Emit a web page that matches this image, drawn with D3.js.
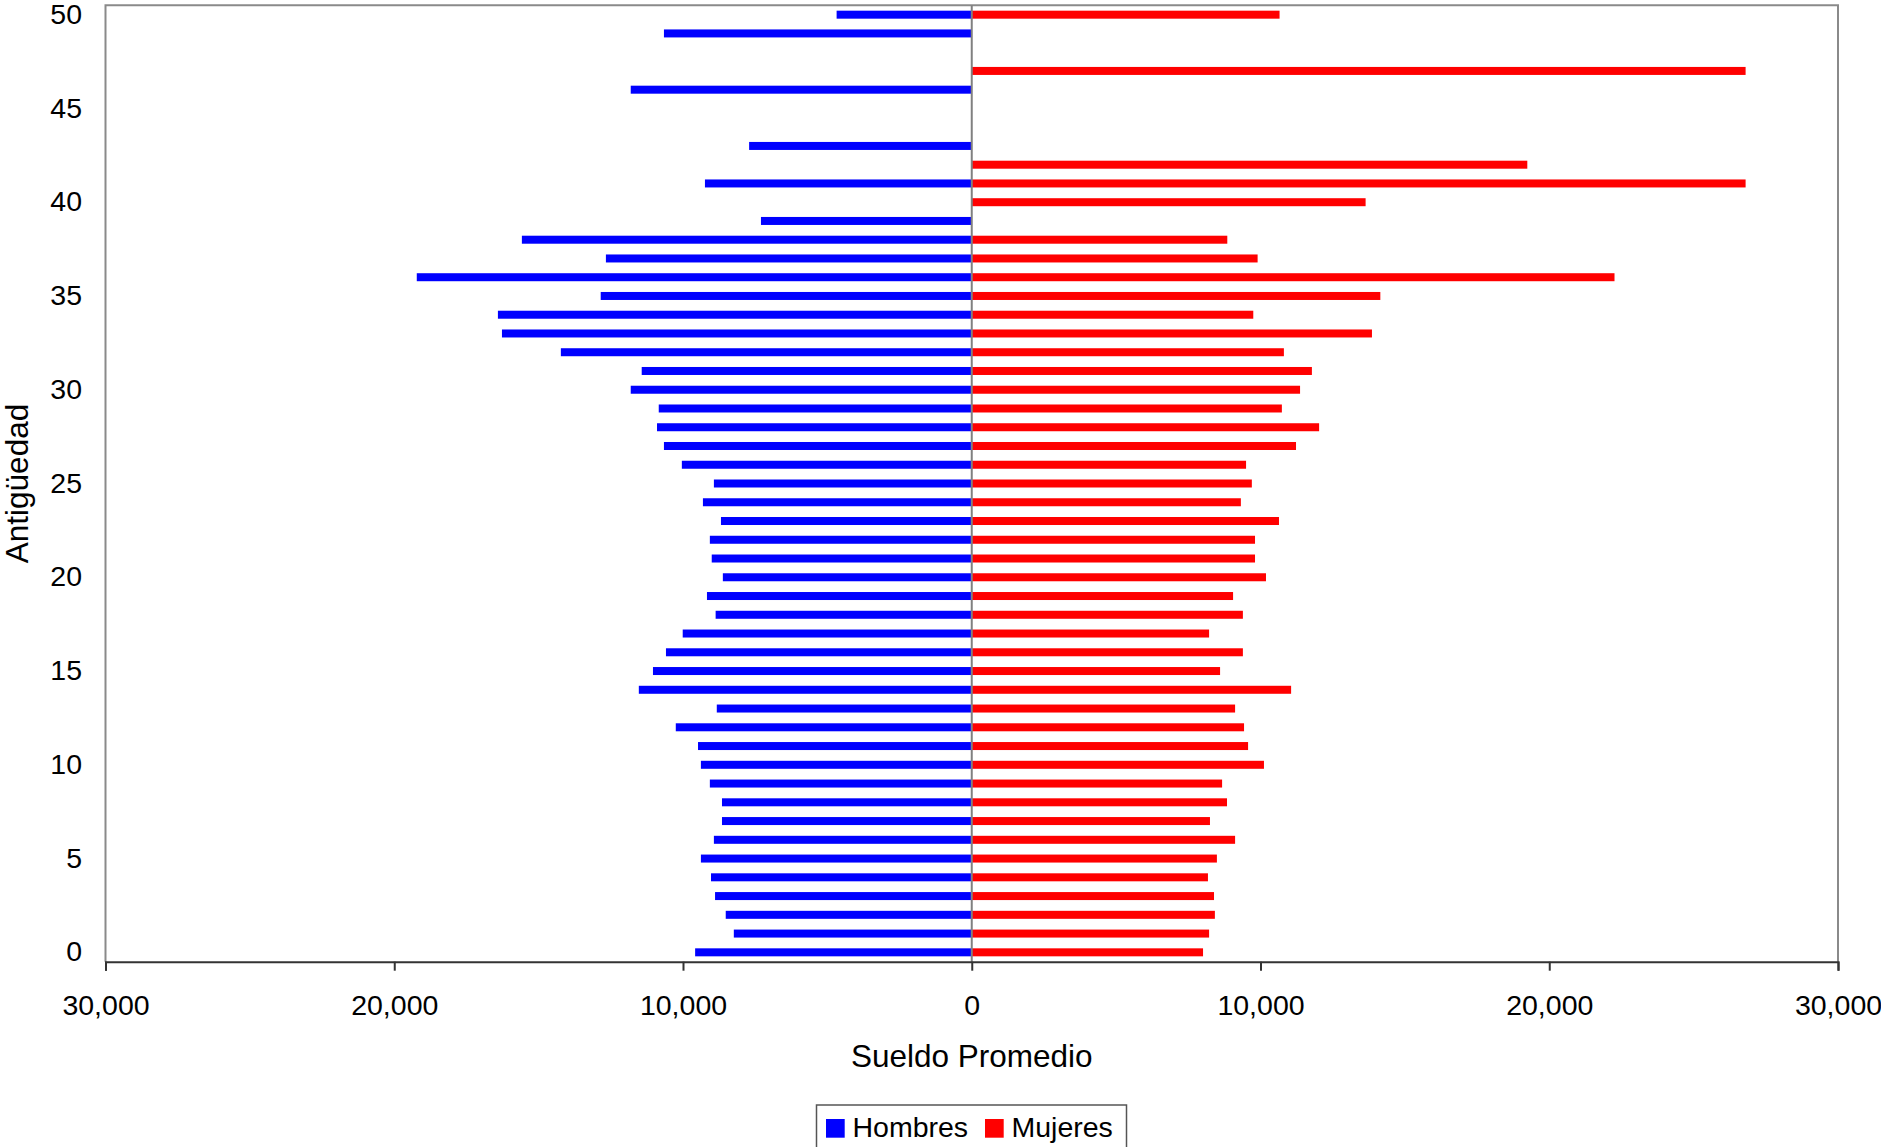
<!DOCTYPE html>
<html>
<head>
<meta charset="utf-8">
<script src="https://cdn.jsdelivr.net/npm/d3@7"></script>
<style>
  html, body { margin: 0; padding: 0; background: #fff; }
  svg { display: block; }
  text { font-family: "Liberation Sans", Arial, sans-serif; fill: #000; }
</style>
</head>
<body>
<svg id="chart" width="1881" height="1147"></svg>
<script>
// ---- Data ----
const antiguedad = [0,1,2,3,4,5,6,7,8,9,10,11,12,13,14,15,16,17,18,19,20,21,22,23,24,25,26,27,28,29,30,31,32,33,34,35,36,37,38,39,40,41,42,43,44,45,46,47,48,49,50];
const hombres = [9580,8240,8520,8890,9030,9380,8930,8650,8650,9070,
                 9380,9480,10250,8830,11530,11040,10590,10010,8870,9170,
                 8620,9005,9070,8685,9310,8930,10040,10660,10900,10840,
                 11810,11430,14230,16270,16410,12850,19220,12670,15580,7300,
                 null,9240,null,7710,null,null,11810,null,null,10660,4680];
const mujeres = [8010,8220,8420,8390,8180,8490,9120,8250,8840,8670,
                 10120,9570,9430,9120,11060,8600,9390,8220,9390,9050,
                 10190,9810,9810,10640,9320,9700,9500,11230,12030,10740,
                 11370,11780,10810,13860,9750,14150,22260,9900,8850,null,
                 13640,26800,19240,null,null,null,null,26800,null,null,10660];
const xTicks = [-30000,-20000,-10000,0,10000,20000,30000];
const yTicks = [0,5,10,15,20,25,30,35,40,45,50];
const seriesNames = ["Hombres","Mujeres"];
const seriesColors = ["#0000FF","#FF0000"];

// ---- Layout ----
const L = 105.5, R = 1838, T = 5.3, B = 961.7;
const svg = d3.select("#chart");

const x = d3.scaleLinear().domain([-30000, 30000]).range([L, R]);
const y = d3.scaleBand().domain(antiguedad.slice().reverse()).range([T, B]).padding(0);
const barH = 8;
const fmt = d3.format(",");

// Bars
const rows = antiguedad.map((a, i) => ({a, h: hombres[i], m: mujeres[i]}));
svg.append("g").selectAll("rect.h")
  .data(rows.filter(d => d.h != null))
  .join("rect")
  .attr("x", d => x(-d.h))
  .attr("width", d => x(0) - x(-d.h))
  .attr("y", d => y(d.a) + y.bandwidth()/2 - barH/2)
  .attr("height", barH)
  .attr("fill", seriesColors[0]);
svg.append("g").selectAll("rect.m")
  .data(rows.filter(d => d.m != null))
  .join("rect")
  .attr("x", x(0))
  .attr("width", d => x(d.m) - x(0))
  .attr("y", d => y(d.a) + y.bandwidth()/2 - barH/2)
  .attr("height", barH)
  .attr("fill", seriesColors[1]);

// Frame (left, top, right) gray
svg.append("path")
  .attr("d", `M${L},${B} L${L},${T} L${R},${T} L${R},${B}`)
  .attr("fill", "none").attr("stroke", "#8a8a8a").attr("stroke-width", 2);

// Zero vertical axis line
svg.append("line")
  .attr("x1", x(0)).attr("x2", x(0)).attr("y1", T).attr("y2", B)
  .attr("stroke", "#808080").attr("stroke-width", 2);

// Bottom axis
const xAxis = d3.axisBottom(x).tickValues(xTicks)
  .tickFormat(d => fmt(Math.abs(d))).tickSize(9).tickSizeOuter(9).tickPadding(24);
const gx = svg.append("g").attr("transform", `translate(0,${B})`).call(xAxis);
gx.select(".domain").attr("stroke", "#333").attr("stroke-width", 2);
gx.selectAll(".tick line").attr("stroke", "#333").attr("stroke-width", 2);
gx.selectAll(".tick text").style("font-size", "28.5px").attr("fill", "#000");

// Left axis labels
const yAxis = d3.axisLeft(y).tickValues(yTicks).tickSize(0).tickPadding(23.5);
const gy = svg.append("g").attr("transform", `translate(${L},0)`).call(yAxis);
gy.select(".domain").remove();
gy.selectAll(".tick text").style("font-size", "28.5px").attr("fill", "#000");

// Axis titles
svg.append("text")
  .attr("x", x(0)).attr("y", 1067)
  .attr("text-anchor", "middle")
  .style("font-size", "31.5px")
  .text("Sueldo Promedio");
svg.append("text")
  .attr("transform", `translate(28,${(T + B) / 2}) rotate(-90)`)
  .attr("text-anchor", "middle")
  .style("font-size", "31.5px")
  .text("Antigüedad");

// Legend
const lg = svg.append("g");
lg.append("rect")
  .attr("x", 816.5).attr("y", 1105).attr("width", 310).attr("height", 60)
  .attr("fill", "#fff").attr("stroke", "#555").attr("stroke-width", 1.5);
const legendX = [826, 985];
seriesNames.forEach((n, i) => {
  lg.append("rect").attr("x", legendX[i]).attr("y", 1119)
    .attr("width", 18.7).attr("height", 18.7).attr("fill", seriesColors[i]);
  lg.append("text").attr("x", legendX[i] + 26.5).attr("y", 1137)
    .style("font-size", "28.5px").text(n);
});
</script>
</body>
</html>
